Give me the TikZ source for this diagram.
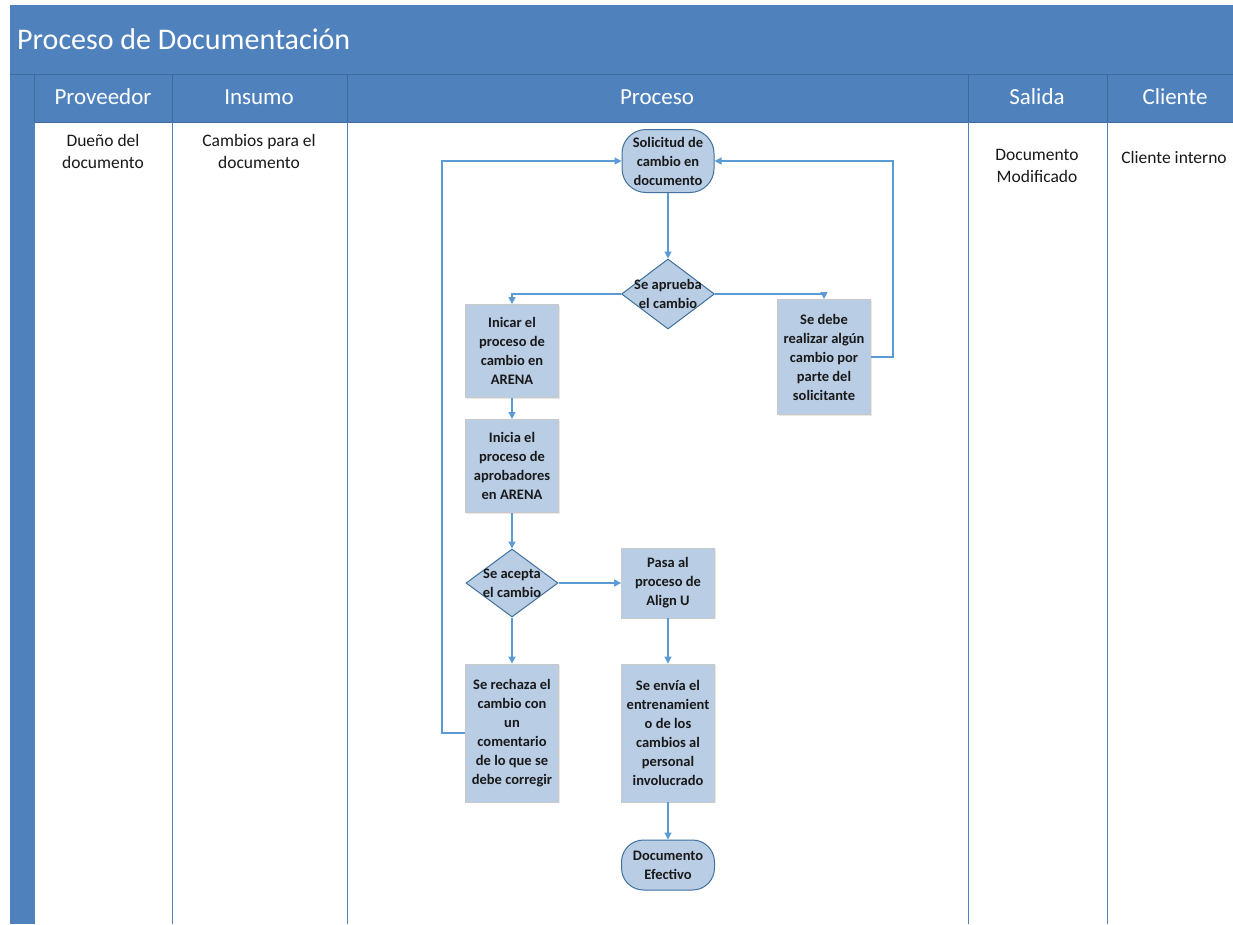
\documentclass[tikz,border=0pt]{standalone}
\usepackage{fontspec}
\setmainfont{Carlito}
\usetikzlibrary{shapes.geometric,arrows.meta,shadows}
\definecolor{band}{RGB}{79,129,189}
\definecolor{bandline}{RGB}{62,106,156}
\definecolor{nodefill}{RGB}{185,205,229}
\definecolor{nodeline}{RGB}{65,113,156}
\definecolor{boxline}{RGB}{200,200,200}
\definecolor{flowc}{RGB}{91,155,213}
\begin{document}
\begin{tikzpicture}[x=1pt,y=-1pt,
  every node/.style={inner sep=0pt, align=center},
  headtxt/.style={text=white, font=\fontsize{23}{27}\selectfont},
  celltxt/.style={text=black!90, font=\fontsize{17.5}{22}\selectfont},
  ntxt/.style={text=black!90, font=\fontsize{14.5}{19}\selectfont\bfseries},
  procbox/.style={ntxt, rectangle, draw=boxline, line width=0.8pt, fill=nodefill,
    minimum width=93pt, drop shadow={opacity=0.18, shadow xshift=1.2pt, shadow yshift=-1.2pt}},
  termbox/.style={ntxt, rectangle, draw=nodeline, line width=1pt, fill=nodefill,
    minimum width=92pt},
  decision/.style={diamond, draw=nodeline, line width=1pt, fill=nodefill,
    minimum width=93pt, minimum height=70pt},
  flow/.style={draw=flowc, line width=1.3pt, -{Triangle[length=7pt,width=7pt]}}
]
\useasboundingbox (0,0) rectangle (1233,924);
\fill[white] (0,0) rectangle (1233,924);

% title band, header row and left strip
\fill[band] (10,5) rectangle (1233,74);
\fill[band] (10,74) rectangle (1233,122);
\fill[band] (10,122) rectangle (34,924);
\draw[bandline, line width=0.8pt] (10,74) -- (1233,74);
\draw[bandline, line width=0.8pt] (34,122) -- (1233,122);
\foreach \x in {34,172,347,968,1107}
  \draw[bandline, line width=0.8pt] (\x,74) -- (\x,122);
\foreach \x in {34,172,347,968,1107}
  \draw[band, line width=0.8pt] (\x,122) -- (\x,924);

\node[anchor=west, text=white, font=\fontsize{30}{36}\selectfont] (title) at (17,39) {Proceso de Documentación};

% column headings
\node[headtxt] (hprov) at (103,97) {Proveedor};
\node[headtxt] (hins)  at (259,97) {Insumo};
\node[headtxt] (hproc) at (657,97) {Proceso};
\node[headtxt] (hsal)  at (1037,97) {Salida};
\node[headtxt] (hcli)  at (1175,97) {Cliente};

% column contents
\node[celltxt] (cprov) at (103,151) {Dueño del\\documento};
\node[celltxt] (cins)  at (259,151) {Cambios para el\\documento};
\node[celltxt] (csal)  at (1037,166) {Documento\\Modificado};
\node[celltxt] (ccli)  at (1174,157) {Cliente interno};

% flowchart
\node[termbox, minimum height=63pt, rounded corners=24pt] (sol) at (668,161) {Solicitud de\\cambio en\\documento};
\node[decision] (d1) at (668,294) {};
\node[ntxt] (d1t) at (668,294) {Se aprueba\\el cambio};
\node[procbox, minimum height=93pt] (ini) at (512,351) {Inicar el\\proceso de\\cambio en\\ARENA};
\node[procbox, minimum height=115pt] (deb) at (824,357) {Se debe\\realizar algún\\cambio por\\parte del\\solicitante};
\node[procbox, minimum height=93pt] (apr) at (512,466) {Inicia el\\proceso de\\aprobadores\\en ARENA};
\node[decision, minimum height=68pt, minimum width=92pt] (d2) at (512,583) {};
\node[ntxt] (d2t) at (512,583) {Se acepta\\el cambio};
\node[procbox, minimum height=70pt] (pasa) at (668,583) {Pasa al\\proceso de\\Align U};
\node[procbox, minimum height=138pt] (rech) at (512,733) {Se rechaza el\\cambio con\\un\\comentario\\de lo que se\\debe corregir};
\node[procbox, minimum height=138pt] (env) at (668,733) {Se envía el\\entrenamient\\o de los\\cambios al\\personal\\involucrado};
\node[termbox, minimum height=50pt, minimum width=93pt, rounded corners=22pt] (efe) at (668,865) {Documento\\Efectivo};

% connectors
\draw[flow] (sol) -- (d1);
\draw[flow] (d1.west) -| (ini.north);
\draw[flow] (d1.east) -| (deb.north);
\draw[flow] (deb.east) -- ++(22,0) |- (sol.east);
\draw[flow] (ini) -- (apr);
\draw[flow] (apr) -- (d2);
\draw[flow] (d2) -- (pasa);
\draw[flow] (d2) -- (rech);
\draw[flow] (pasa) -- (env);
\draw[flow] (env) -- (efe);
\draw[flow] (rech.west) -- ++(-23,0) |- (sol.west);
\end{tikzpicture}
\end{document}
